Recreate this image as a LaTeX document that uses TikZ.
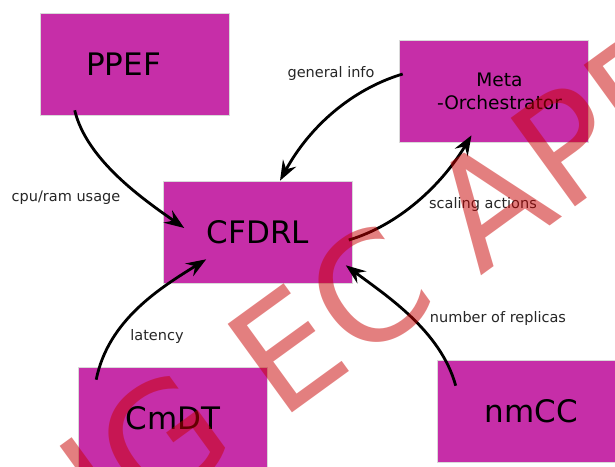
\documentclass[tikz,border=0pt]{standalone}
\usepackage{fontspec}
\setmainfont{DejaVu Sans}
\usetikzlibrary{arrows.meta,calc}

\definecolor{boxfill}{RGB}{198,46,168}
\definecolor{stampred}{RGB}{200,0,0}

\tikzset{
  block/.style={fill=boxfill, draw=gray!30, line width=0.6pt,
    minimum width=189pt, minimum height=102pt, inner sep=0pt,
    font=\fontsize{31}{36}\selectfont},
  flow/.style={line width=2.8pt, -{Stealth[length=20pt,width=15pt,inset=7pt]}},
  tag/.style={font=\fontsize{14.5}{17}\selectfont, text=black!85},
}

\begin{document}
\begin{tikzpicture}[x=1pt,y=-1pt]
  % Page frame
  \useasboundingbox (0,0) rectangle (615,466);
  \clip (0,0) rectangle (615,466);

  % ---- Components ----
  \node[block] (ppef)  at (134.5,64) {PPEF\kern22pt};
  \node[block, align=center, font=\fontsize{18.6}{23}\selectfont]
    (meta) at (493.5,91) {\hspace{12pt}Meta\\\hspace{12pt}-Orchestrator};
  \node[block] (cfdrl) at (258,232) {CFDRL};
  \node[block] (cmdt)  at (173,418) {CmDT};
  \node[block] (nmcc)  at (531.5,411) {nmCC};

  % ---- Data flows ----
  \draw[flow] ($(ppef.south west)+(35,-5)$)
    .. controls +(12,50) and +(-40,-28) .. ($(cfdrl.west)+(21,-4)$);
  \draw[flow] ($(meta.west)+(4,-17)$)
    .. controls +(-50,15) and +(30,-55) .. ($(cfdrl.north)+(22,0)$);
  \draw[flow] ($(cfdrl.east)+(-4,8)$)
    .. controls +(50,-15) and +(-30,50) .. ($(meta.south)+(-22,-7)$);
  \draw[flow] ($(cmdt.north west)+(18,13)$)
    .. controls +(12,-60) and +(-45,28) .. ($(cfdrl.south west)+(43,-24)$);
  \draw[flow] ($(nmcc.north west)+(19,26)$)
    .. controls +(-15,-55) and +(40,30) .. ($(cfdrl.south east)+(-7,-18)$);

  % Labels
  \node[tag] (usage)    at (66,198)  {cpu/ram usage};
  \node[tag] (info)     at (331,73)  {general info};
  \node[tag] (scaling)  at (483,204) {scaling actions};
  \node[tag] (latency)  at (157,336) {latency};
  \node[tag] (replicas) at (498,318) {number of replicas};

  % Stamp across the sheet
  \node[anchor=base west, inner sep=0pt, rotate=36, text=stampred,
    opacity=0.5, font=\fontsize{150}{152}\selectfont]
    (stamp) at (112,544) {IG EC APP};
\end{tikzpicture}
\end{document}
